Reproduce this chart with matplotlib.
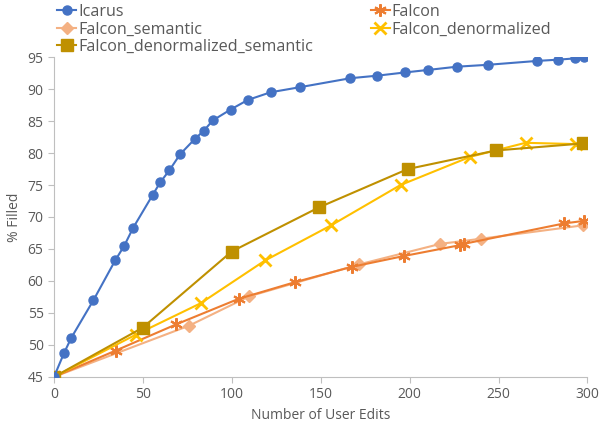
import matplotlib.pyplot as plt

plt.rcParams['font.family'] = ['Open Sans', 'DejaVu Sans']

icarus_x = [0, 5.6, 9.7, 22.2, 34.4, 39.5, 44.5, 55.4, 59.7, 64.9, 70.9, 79.2, 84.3,
            89.3, 99.3, 109, 121.8, 138.4, 166.7, 181.9, 197.4, 210.6, 226.6, 244.2,
            271.6, 283.5, 293.1, 298.2]
icarus_y = [45, 48.7, 51.1, 57.0, 63.2, 65.5, 68.3, 73.4, 75.4, 77.3, 79.8, 82.2, 83.5,
            85.1, 86.8, 88.3, 89.5, 90.3, 91.7, 92.1, 92.6, 93.0, 93.5, 93.8,
            94.4, 94.6, 94.8, 95.0]

falcon_x = [0, 34.6, 68.6, 103.8, 135.4, 167.4, 196.8, 228.4, 230.5, 287, 298.2]
falcon_y = [45, 49.1, 53.2, 57.2, 59.8, 62.2, 63.9, 65.6, 65.8, 69.0, 69.4]

sem_x = [0, 75.9, 109.8, 171.7, 217.3, 240.1, 297.6]
sem_y = [45, 53.0, 57.6, 62.6, 65.8, 66.6, 68.7]

denorm_x = [0, 46, 82.4, 118.7, 155.9, 194.9, 234.0, 265.2, 293.5]
denorm_y = [45, 51.6, 56.5, 63.2, 68.7, 75.0, 79.4, 81.6, 81.4]

densem_x = [0, 49.9, 99.9, 149.0, 199.0, 248.5, 297.5]
densem_y = [45, 52.7, 64.6, 71.5, 77.5, 80.4, 81.5]

fig = plt.figure(figsize=(6, 4.23), dpi=100)
ax = fig.add_axes([0.09, 0.109, 0.889, 0.756])

h_ic, = ax.plot(icarus_x, icarus_y, color='#4472C4', lw=1.5, marker='o', ms=6.5,
                label='Icarus', zorder=5)
h_fa, = ax.plot(falcon_x, falcon_y, color='#ED7D31', lw=1.5, marker=(6, 2, 0), ms=9,
                mew=1.5, label='Falcon', zorder=3)
h_se, = ax.plot(sem_x, sem_y, color='#F4B183', lw=1.5, marker='D', ms=6,
                label='Falcon_semantic', zorder=2)
h_dn, = ax.plot(denorm_x, denorm_y, color='#FFC000', lw=1.5, marker='x', ms=9,
                mew=2, label='Falcon_denormalized', zorder=3)
h_ds, = ax.plot(densem_x, densem_y, color='#BF9000', lw=1.5, marker='s', ms=8,
                label='Falcon_denormalized_semantic', zorder=4)

ax.set_xlim(0, 300)
ax.set_ylim(45, 95)
ax.set_xticks(range(0, 301, 50))
ax.set_yticks(range(45, 96, 5))
ax.set_xlabel('Number of User Edits', fontsize=10, color='#595959')
ax.set_ylabel('% Filled', fontsize=10, color='#595959')
ax.tick_params(labelsize=10, length=4, width=0.8, colors='#BFBFBF', labelcolor='#595959')
for s in ['top', 'right']:
    ax.spines[s].set_visible(False)
for s in ['left', 'bottom']:
    ax.spines[s].set_color('#BFBFBF')
    ax.spines[s].set_linewidth(0.8)

leg = fig.legend(handles=[h_ic, h_se, h_ds, h_fa, h_dn], loc='upper left',
                 bbox_to_anchor=(0.095, 0.991), ncol=2, frameon=False, fontsize=11.6,
                 handlelength=1.2, handletextpad=0.1, columnspacing=3.6,
                 labelspacing=0.1, borderaxespad=0, borderpad=0)
for t in leg.get_texts():
    t.set_color('#595959')

fig.savefig('out.png', dpi=100)
